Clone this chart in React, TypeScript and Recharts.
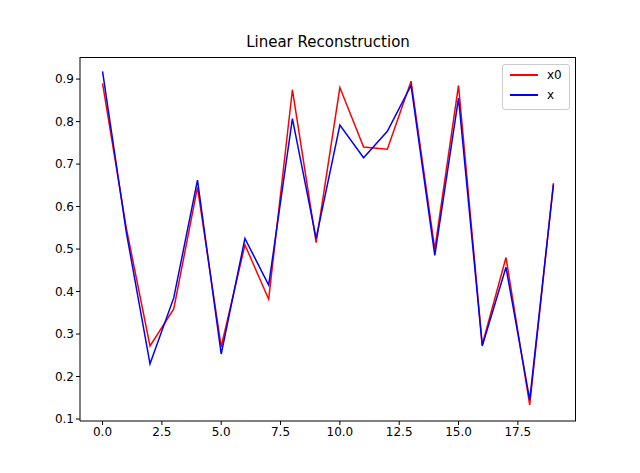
import React from "react";
import { LineChart, Line, XAxis, YAxis } from "recharts";

const idx = [0,1,2,3,4,5,6,7,8,9,10,11,12,13,14,15,16,17,18,19];
const x0 = [0.89,0.55,0.272,0.359,0.645,0.27,0.51,0.382,0.875,0.515,0.88,0.74,0.735,0.895,0.5,0.885,0.275,0.48,0.133,0.655];
const xs = [0.918,0.54,0.23,0.385,0.662,0.253,0.525,0.415,0.807,0.525,0.792,0.715,0.777,0.885,0.485,0.855,0.272,0.457,0.145,0.652];
const xTicks = [0,2.5,5,7.5,10,12.5,15,17.5];
const yTicks = [0.1,0.2,0.3,0.4,0.5,0.6,0.7,0.8,0.9];

const data = idx.map((i, k) => ({ i, x0: x0[k], x: xs[k] }));
const font = "DejaVu Sans";
const tick = { fill: "#000", fontSize: 12, fontFamily: font };
const ax = { stroke: "#000" };

export default function App() {
  return (
    <div style={{ position: "absolute", left: 0, top: 0, width: 640, height: 473, background: "#fff" }}>
      <div style={{ position: "absolute", top: 33, width: 656, textAlign: "center", fontFamily: font, fontSize: 15 }}>
        Linear Reconstruction
      </div>
      <LineChart width={640} height={473} data={data} margin={{ top: 57, right: 64, left: 30, bottom: 22 }}>
        <XAxis dataKey="i" type="number" domain={[-0.95, 19.95]} ticks={xTicks} tickFormatter={(v) => v.toFixed(1)}
          tick={tick} axisLine={ax} tickLine={ax} height={30} tickSize={4} />
        <YAxis type="number" domain={[0.0953, 0.952]} ticks={yTicks} tickFormatter={(v) => v.toFixed(1)}
          tick={tick} axisLine={ax} tickLine={ax} width={50} tickSize={4} />
        <Line dataKey="x0" stroke="#ff0000" strokeWidth={1.5} dot={false} isAnimationActive={false} />
        <Line dataKey="x" stroke="#0000ff" strokeWidth={1.5} dot={false} isAnimationActive={false} />
      </LineChart>
      <div style={{ position: "absolute", left: 80, top: 57, width: 496, height: 364, borderTop: "1px solid #000", borderRight: "1px solid #000", boxSizing: "border-box", pointerEvents: "none" }} />
      <div style={{ position: "absolute", left: 502, top: 64, width: 66, height: 44, border: "1px solid #ccc", borderRadius: 3, background: "#fff", fontFamily: font, fontSize: 12 }}>
        {[["x0", "#ff0000"], ["x", "#0000ff"]].map(([n, c], k) => (
          <div key={n} style={{ position: "absolute", left: 7, top: 3 + k * 20, display: "flex", alignItems: "center" }}>
            <div style={{ width: 28, height: 2, background: c, marginRight: 9 }} />
            <span>{n}</span>
          </div>
        ))}
      </div>
    </div>
  );
}
